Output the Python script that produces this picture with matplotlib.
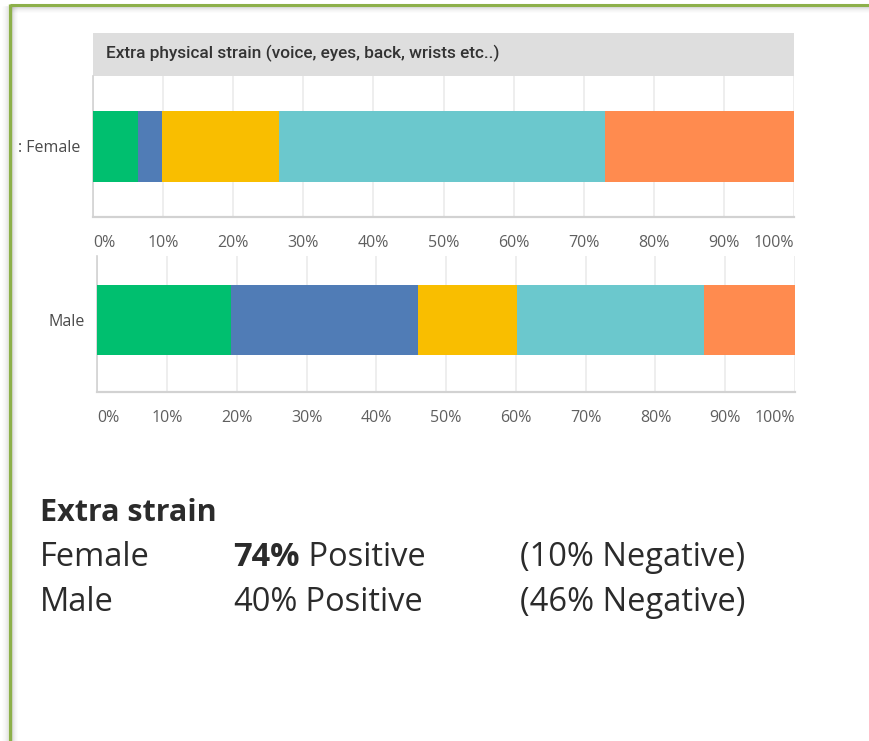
import matplotlib
matplotlib.use("Agg")
import matplotlib.pyplot as plt
from matplotlib.patches import Rectangle
from matplotlib.lines import Line2D

# Response shares (%) per group, stacked left to right
groups = [": Female", "Male"]
female_shares = [6.4, 3.5, 16.6, 46.6, 26.9]
male_shares = [19.2, 26.8, 14.1, 26.8, 13.1]
segment_colors = ["#00bf6f", "#507cb6", "#f9be00", "#6bc8cd", "#ff8b4f"]

tick_values = [0, 10, 20, 30, 40, 50, 60, 70, 80, 90, 100]
tick_labels = [f"{v}%" for v in tick_values]

question = "Extra physical strain (voice, eyes, back, wrists etc..)"

summary_title = "Extra strain"
summary_groups = ["Female", "Male"]
summary_positive = ["74%", "40%"]
summary_negative = ["(10% Negative)", "(46% Negative)"]

W, H = 869, 741
fig = plt.figure(figsize=(W / 100, H / 100), dpi=100)
fig.patch.set_facecolor("white")


def fx(px):
    return px / W


def fy(py):
    return 1 - py / H


# Green frame with a soft inner shadow
for i, a in enumerate([0.10, 0.07, 0.05, 0.03, 0.02, 0.01]):
    fig.add_artist(Line2D([fx(11), 1], [fy(7 + i), fy(7 + i)], color="black", alpha=a, lw=1.2))
    fig.add_artist(Line2D([fx(12 + i), fx(12 + i)], [fy(7), 0], color="black", alpha=a, lw=1.2))
    fig.add_artist(Line2D([fx(8 - i), fx(8 - i)], [fy(7), 0], color="black", alpha=a * 0.6, lw=1.2))
fig.add_artist(Line2D([fx(9.5), 1], [fy(4.5), fy(4.5)], color="#8db04a", lw=2.2, solid_capstyle="butt"))
fig.add_artist(Line2D([fx(10), fx(10)], [fy(4), 0], color="#8db04a", lw=2.4, solid_capstyle="butt"))


def draw_group(ax, label, shares, ylim, bar_h):
    left = 0
    for share, col in zip(shares, segment_colors):
        ax.barh(0, share, left=left, height=bar_h, color=col, edgecolor="none", zorder=3)
        left += share
    ax.set_xlim(0, 100)
    ax.set_ylim(*ylim)
    ax.set_xticks(tick_values)
    ax.set_xticklabels(tick_labels)
    for t, v in zip(ax.get_xticklabels(), tick_values):
        t.set_ha("left" if v == 0 else ("right" if v == 100 else "center"))
    ax.tick_params(axis="x", length=0, pad=13, labelsize=11.5, labelcolor="#5f5f5f")
    ax.set_yticks([0])
    ax.set_yticklabels([label])
    ax.tick_params(axis="y", length=0, pad=9, labelsize=11.5, labelcolor="#4a4a4a")
    for t in ax.get_xticklabels() + ax.get_yticklabels():
        t.set_fontfamily("Open Sans")
    ax.grid(axis="x", color="#ebebeb", lw=1.2, zorder=0)
    ax.set_axisbelow(True)
    for s in ["top", "right"]:
        ax.spines[s].set_visible(False)
    ax.spines["bottom"].set_color("#d2d2d2")
    ax.spines["bottom"].set_linewidth(1.6)
    ax.spines["left"].set_color("#d2d2d2")
    ax.spines["left"].set_linewidth(1.2)
    ax.set_facecolor("white")


# Question header band
hdr = fig.add_axes([fx(93), fy(76), fx(794) - fx(93), fy(33) - fy(76)])
hdr.set_xlim(0, 1)
hdr.set_ylim(0, 1)
hdr.axis("off")
hdr.add_patch(Rectangle((0, 0), 1, 1, color="#dedede", transform=hdr.transAxes))
fig.text(fx(106), fy(53), question, ha="left", va="center", fontsize=12.4,
         family="Roboto", fontweight="medium", color="#333333")

ax_f = fig.add_axes([fx(93), fy(217), fx(794) - fx(93), fy(76) - fy(217)])
draw_group(ax_f, groups[0], female_shares, (-0.5, 0.5), 0.5)

ax_m = fig.add_axes([fx(97.3), fy(392), fx(795) - fx(97.3), fy(256) - fy(392)])
draw_group(ax_m, groups[1], male_shares, (-0.53, 0.47), 0.52)

# Summary text block
font = "Open Sans"
fs = 23.5
ink = "#2b2b2b"
fig.text(fx(40), fy(521), summary_title, ha="left", va="baseline", fontsize=22,
         fontweight="bold", family=font, color=ink)
rows_y = [566, 611]
for i, (g, pos, neg) in enumerate(zip(summary_groups, summary_positive, summary_negative)):
    y = fy(rows_y[i])
    fig.text(fx(40), y, g, ha="left", va="baseline", fontsize=fs, family=font, color=ink)
    p = fig.text(fx(233), y, pos, ha="left", va="baseline", fontsize=fs, family=font,
                 color=ink, fontweight="bold" if i == 0 else "normal")
    fig.canvas.draw()
    ext = p.get_window_extent()
    fig.text(ext.x1 / W, y, " Positive", ha="left", va="baseline", fontsize=fs,
             family=font, color=ink)
    fig.text(fx(520), y, neg, ha="left", va="baseline", fontsize=fs, family=font, color=ink)

fig.savefig("out.png", dpi=100, facecolor="white")
